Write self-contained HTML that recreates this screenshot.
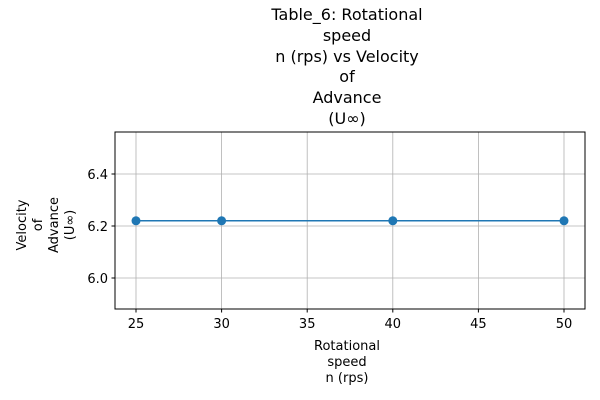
<!DOCTYPE html>
<html><head><meta charset="utf-8"><style>
body{margin:0;background:#fff;}
svg{display:block;font-family:"DejaVu Sans","Liberation Sans",sans-serif;}
</style></head><body>
<svg id="chart" width="600" height="400">
<g font-size="16" text-anchor="middle" fill="#000">
<text x="347" y="20">Table_6: Rotational</text>
<text x="347" y="41">speed</text>
<text x="347" y="62">n (rps) vs Velocity</text>
<text x="347" y="82">of</text>
<text x="347" y="103">Advance</text>
<text x="347" y="124">(U∞)</text>
</g>
<g id="grid"></g>
<g id="ticks"></g>
<rect x="115" y="132" width="470" height="177" fill="none" stroke="#000" stroke-width="1"/>
<g id="series"></g>
<g font-size="13" text-anchor="middle">
<text x="347" y="350">Rotational</text>
<text x="347" y="366">speed</text>
<text x="347" y="382">n (rps)</text>
</g>
<g font-size="13" text-anchor="middle" transform="translate(0,225) rotate(-90)">
<text x="0" y="26">Velocity</text>
<text x="0" y="42">of</text>
<text x="0" y="58">Advance</text>
<text x="0" y="74">(U∞)</text>
</g>
</svg>
<script>
const xValues=[25,30,40,50];
const yValues=[6.22,6.22,6.22,6.22];
const xTicks=[25,30,35,40,45,50];
const yTicks=[6.0,6.2,6.4];
const NS='http://www.w3.org/2000/svg';
function sx(v){return 136+(v-25)*17.12;}
function sy(v){return 226-(v-6.2)*260;}
function mk(tag,attrs,parent){const e=document.createElementNS(NS,tag);for(const k in attrs)e.setAttribute(k,attrs[k]);parent.appendChild(e);return e;}
const grid=document.getElementById('grid'),ticks=document.getElementById('ticks'),series=document.getElementById('series');
xTicks.forEach(t=>{const x=sx(t);
const g=mk('line',{x1:x,x2:x,y1:132,y2:309,stroke:'#b0b0b0','stroke-width':0.8},grid);


mk('line',{x1:x,x2:x,y1:309,y2:312.5,stroke:'#000'},ticks);
const l=mk('text',{x:x,y:328,'font-size':13,'text-anchor':'middle'},ticks);l.textContent=t;

});
yTicks.forEach(t=>{const y=sy(t);
const g=mk('line',{x1:115,x2:585,y1:y,y2:y,stroke:'#b0b0b0','stroke-width':0.8},grid);


mk('line',{x1:111.5,x2:115,y1:y,y2:y,stroke:'#000'},ticks);
const l=mk('text',{x:108,y:y+5,'font-size':13,'text-anchor':'end'},ticks);l.textContent=t.toFixed(1);

});
const pts=xValues.map((x,i)=>sx(x)+','+sy(yValues[i])).join(' ');
const pl=mk('polyline',{points:pts,fill:'none',stroke:'#1f77b4','stroke-width':1.5},series);


xValues.forEach((x,i)=>{const c=mk('circle',{cx:sx(x),cy:sy(yValues[i]),r:4.5,fill:'#1f77b4'},series);

});
</script>
</body></html>
